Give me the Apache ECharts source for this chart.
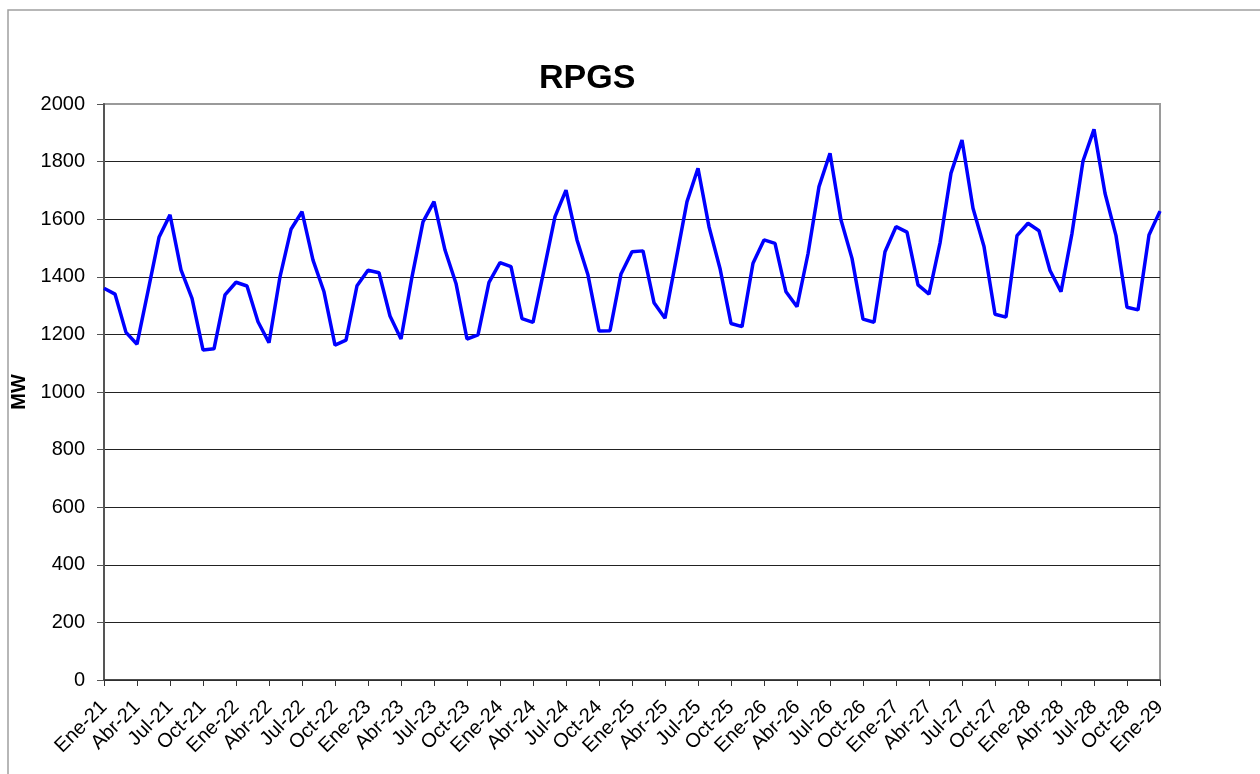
<!DOCTYPE html>
<html>
<head>
<meta charset="utf-8">
<script src="https://cdn.jsdelivr.net/npm/echarts@6/dist/echarts.min.js"></script>
<style>
  html, body { margin: 0; padding: 0; background: #fff; }
  #chart { width: 1260px; height: 774px; }
</style>
</head>
<body>
<div id="chart"></div>
<script>
// meses: Ene-21 .. Ene-29
const meses = ['Ene', 'Feb', 'Mar', 'Abr', 'May', 'Jun', 'Jul', 'Ago', 'Sep', 'Oct', 'Nov', 'Dic']
const years = ['21', '22', '23', '24', '25', '26', '27', '28', '29']
const categories = []
years.forEach(function (y, k) {
  meses.forEach(function (m, j) {
    if (k < years.length - 1 || j === 0) categories.push(m + '-' + y)
  })
})

// RPGS (MW), valores
const rpgs = [
  1360, 1340, 1207, 1166, 1350, 1537, 1615, 1424, 1325, 1146, 1150, 1337,
  1381, 1368, 1244, 1171, 1400, 1565, 1626, 1458, 1348, 1163, 1180, 1369,
  1423, 1414, 1264, 1184, 1400, 1591, 1661, 1493, 1377, 1184, 1198, 1381,
  1449, 1435, 1255, 1242, 1424, 1609, 1701, 1528, 1406, 1212, 1213, 1410,
  1487, 1490, 1310, 1256, 1458, 1661, 1777, 1574, 1429, 1238, 1227, 1447,
  1528, 1516, 1348, 1296, 1480, 1713, 1829, 1597, 1464, 1253, 1242, 1487,
  1574, 1555, 1372, 1340, 1517, 1760, 1875, 1638, 1505, 1270, 1260, 1543,
  1586, 1560, 1422, 1348, 1551, 1802, 1912, 1690, 1543, 1294, 1285, 1545,
  1628
]

const font = 'Liberation Sans, Arial, sans-serif'

var myChart = echarts.init(document.getElementById('chart'), null, { renderer: 'canvas' });
var option = {
  animation: false,
  backgroundColor: '#fff',
  title: {
    text: 'RPGS',
    left: 534,
    top: 57,
    textStyle: { fontFamily: font, fontSize: 34, fontWeight: 'bold', color: '#000' }
  },
  graphic: [
    {
      type: 'rect',
      shape: { x: 8, y: 10, width: 1400, height: 900 },
      style: { fill: 'none', stroke: '#a0a0a0', lineWidth: 1.5 },
      silent: true
    }
  ],
  grid: {
    left: 104,
    top: 104,
    width: 1056,
    height: 576,
    show: true,
    borderColor: '#9a9a9a',
    borderWidth: 2,
    containLabel: false,
    outerBoundsMode: 'none'
  },
  xAxis: {
    type: 'category',
    data: categories,
    boundaryGap: false,
    axisLine: { lineStyle: { color: '#333', width: 1.5 } },
    axisTick: { interval: 2, length: 6, lineStyle: { color: '#333' } },
    axisLabel: {
      interval: 2,
      rotate: 45,
      margin: 24,
      fontFamily: font,
      fontSize: 20,
      color: '#000'
    },
    splitLine: { show: false }
  },
  yAxis: {
    type: 'value',
    min: 0,
    max: 2000,
    interval: 200,
    name: 'MW',
    nameLocation: 'middle',
    nameGap: 67,
    nameTextStyle: { fontFamily: font, fontSize: 20, fontWeight: 'bold', color: '#000' },
    axisLine: { show: true, lineStyle: { color: '#555', width: 2 } },
    axisTick: { show: true, length: 7, lineStyle: { color: '#555' } },
    axisLabel: {
      margin: 19,
      fontFamily: font,
      fontSize: 20,
      color: '#000',
      formatter: function (v) { return String(v) }
    },
    splitLine: { show: true, showMaxLine: false, lineStyle: { color: '#222', width: 1 } }
  },
  series: [
    {
      name: 'RPGS',
      type: 'line',
      data: rpgs,
      showSymbol: false,
      symbol: 'none',
      lineStyle: { color: '#0000ff', width: 3.5 },
      itemStyle: { color: '#0000ff' }
    }
  ]
};

option && myChart.setOption(option);
</script>
</body>
</html>
